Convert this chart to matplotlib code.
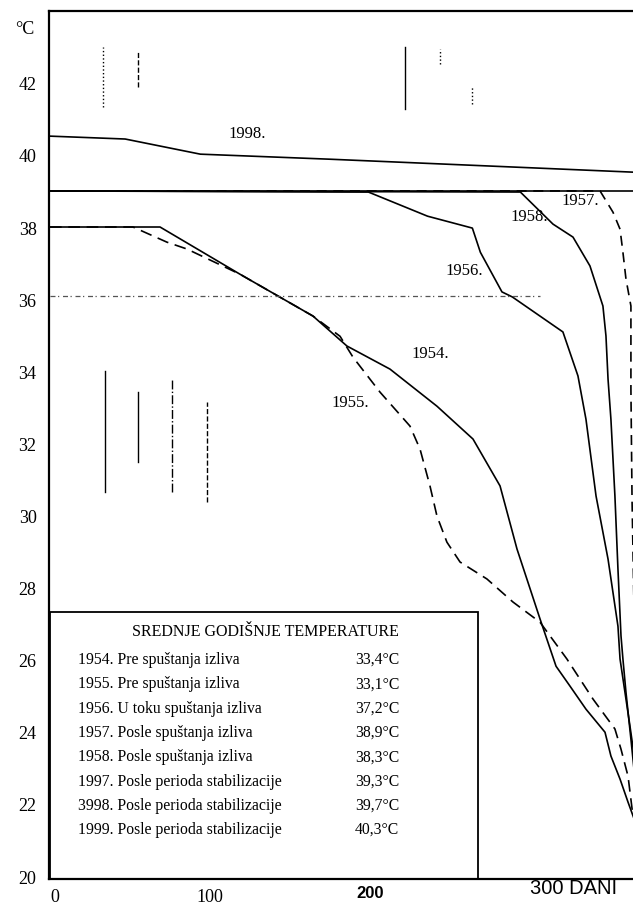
import matplotlib.pyplot as plt
from matplotlib.patches import Rectangle

# days / temperature (°C)
x_1998 = [0, 47, 94, 175, 365]
y_1998 = [40.52, 40.44, 40.02, 39.88, 39.52]

x_1997 = [2, 366]
y_1997 = [39.0, 39.0]

x_1956 = [0, 199, 236, 264, 269, 282.5, 289, 320.6, 330, 335, 341.3, 348.8, 355, 356.3, 362.5, 366.3]
y_1956 = [39.0, 38.97, 38.30, 37.97, 37.30, 36.20, 36.06, 35.09, 33.87, 32.67, 30.54, 28.79, 26.93, 26.02, 24.16, 22.97]

x_1958 = [0, 294, 314.4, 326.9, 337.5, 345.6, 347.5, 348.8, 350.6, 353.1, 355, 356.9, 358.1, 360, 363.1, 366.3]
y_1958 = [39.0, 38.97, 38.08, 37.72, 36.92, 35.81, 34.98, 33.78, 32.67, 30.54, 28.51, 26.66, 26.02, 25.10, 23.80, 22.41]

x_1957 = [0, 343.8, 351.9, 356.3, 358.1, 360, 363.1, 363.1, 363.8, 365.5]
y_1957 = [39.0, 39.0, 38.41, 37.94, 37.30, 36.56, 35.81, 33.5, 30.45, 26.3]

x_1954 = [0, 68.8, 118.8, 164.4, 185.6, 212.5, 241.9, 264.4, 281.3, 291.9, 306.3, 316.3, 325, 335,
          346.9, 350.6, 356.3, 361.3, 366.3]
y_1954 = [38.0, 38.0, 36.69, 35.53, 34.70, 34.06, 33.03, 32.12, 30.82, 29.07, 27.13, 25.82, 25.27, 24.63,
          23.99, 23.33, 22.69, 22.05, 21.44]

x_1955 = [0, 51.9, 73.1, 85.6, 118.8, 164.4, 181.3, 189.4, 206.3, 225, 231.3, 237.5, 241.9, 248.1,
          256.3, 273.1, 289.4, 306.3, 323.1, 339.4, 353.1, 356.9, 361.3, 364.4]
y_1955 = [38.0, 38.0, 37.58, 37.39, 36.69, 35.53, 34.97, 34.39, 33.42, 32.48, 31.84, 30.82, 29.98, 29.26,
          28.71, 28.24, 27.60, 27.04, 26.02, 24.91, 24.08, 23.52, 22.77, 21.66]

x_36 = [0, 306]
y_36 = [36.08, 36.08]

# faded style marks left on the scan
mark_x = [33.1, 55, 221.9, 243.8, 263.8, 34.4, 55, 76.3, 98.1]
mark_y0 = [41.33, 41.88, 41.27, 42.52, 41.41, 30.65, 31.48, 30.65, 30.37]
mark_y1 = [43.0, 42.88, 43.0, 42.93, 41.88, 34.0, 33.42, 33.78, 33.14]
mark_ls = [":", "--", "-", ":", ":", "-", "-", "-.", "--"]

curve_labels = ["1998.", "1957.", "1958.", "1956.", "1954.", "1955."]
label_x = [123, 331.5, 299.5, 258.8, 238, 188]
label_y = [40.60, 38.75, 38.30, 36.80, 34.50, 33.15]

legend_title = "SREDNJE GODIŠNJE TEMPERATURE"
legend_rows = [
    "1954. Pre spuštanja izliva",
    "1955. Pre spuštanja izliva",
    "1956. U toku spuštanja izliva",
    "1957. Posle spuštanja izliva",
    "1958. Posle spuštanja izliva",
    "1997. Posle perioda stabilizacije",
    "3998. Posle perioda stabilizacije",
    "1999. Posle perioda stabilizacije",
]
legend_vals = ["33,4°C", "33,1°C", "37,2°C", "38,9°C", "38,3°C", "39,3°C", "39,7°C", "40,3°C"]

yticks = list(range(20, 43, 2))
xticks = [0, 100, 200, 300]
xtick_labels = ["0", "100", "200", "300 DANI"]

W, H = 633, 912
serif = "Liberation Serif"
sans = "Liberation Sans"

fig = plt.figure(figsize=(W / 100, H / 100), dpi=100)
ax = fig.add_axes([49 / W, 1 - 880 / H, 1 - 49 / W, 868 / H])
ax.set_xlim(-0.6, 364.4)
ax.set_ylim(19.92, 43.99)

lw = 1.2
ax.plot(x_1998, y_1998, color="black", lw=lw)
ax.plot(x_1997, y_1997, color="black", lw=lw)
ax.plot(x_1956, y_1956, color="black", lw=lw)
ax.plot(x_1958, y_1958, color="black", lw=lw)
ax.plot(x_1957, y_1957, color="black", lw=lw, dashes=(6, 4))
ax.plot(x_1954, y_1954, color="black", lw=lw)
ax.plot(x_1955, y_1955, color="black", lw=lw, dashes=(7, 4))
ax.plot(x_36, y_36, color="#555555", lw=0.9, dashes=(4, 2, 1, 3))

for mx, a, b, ls in zip(mark_x, mark_y0, mark_y1, mark_ls):
    ax.plot([mx, mx], [a, b], color="black", lw=1.0, ls=ls)

for t, tx, ty in zip(curve_labels, label_x, label_y):
    ax.text(tx, ty, t, ha="center", va="center", family=serif, fontsize=12)

# legend box with the mean yearly temperatures
ax.add_patch(Rectangle((0, 19.92), 267.5, 27.32 - 19.92, fill=False, ec="black", lw=1.3, zorder=3))
fig.text(265 / W, 1 - 632 / H, legend_title, ha="center", va="center", family=serif, fontsize=11.5)
for i, (row, val) in enumerate(zip(legend_rows, legend_vals)):
    yy = 1 - (660 + i * 24.3) / H
    fig.text(78 / W, yy, row, ha="left", va="center", family=serif, fontsize=11.3)
    fig.text(355 / W, yy, val, ha="left", va="center", family=serif, fontsize=11.3)

for s in ["left", "top", "bottom"]:
    ax.spines[s].set_linewidth(1.6)
ax.spines["right"].set_visible(False)

ax.set_yticks(yticks)
ax.set_yticklabels([str(v) for v in yticks], family=serif, fontsize=13)
ax.tick_params(axis="y", length=0, pad=9)
ax.set_xticks([])

# x labels come in mixed fonts on the original
xt = ax.get_xaxis_transform()
ax.text(xticks[0] + 3, -0.0205, xtick_labels[0], transform=xt, ha="center", va="center", family=serif, fontsize=13)
ax.text(xticks[1], -0.0205, xtick_labels[1], transform=xt, ha="center", va="center", family=serif, fontsize=13)
ax.text(xticks[2], -0.0155, xtick_labels[2], transform=xt, ha="center", va="center", family=sans,
        fontsize=12, fontweight="bold")
ax.text(xticks[3], -0.0095, xtick_labels[3], transform=xt, ha="left", va="center", family=sans, fontsize=14.5)

fig.text(25 / W, 1 - 30 / H, "°C", ha="center", va="center", family=serif, fontsize=13)

fig.savefig("out.png", dpi=100)
